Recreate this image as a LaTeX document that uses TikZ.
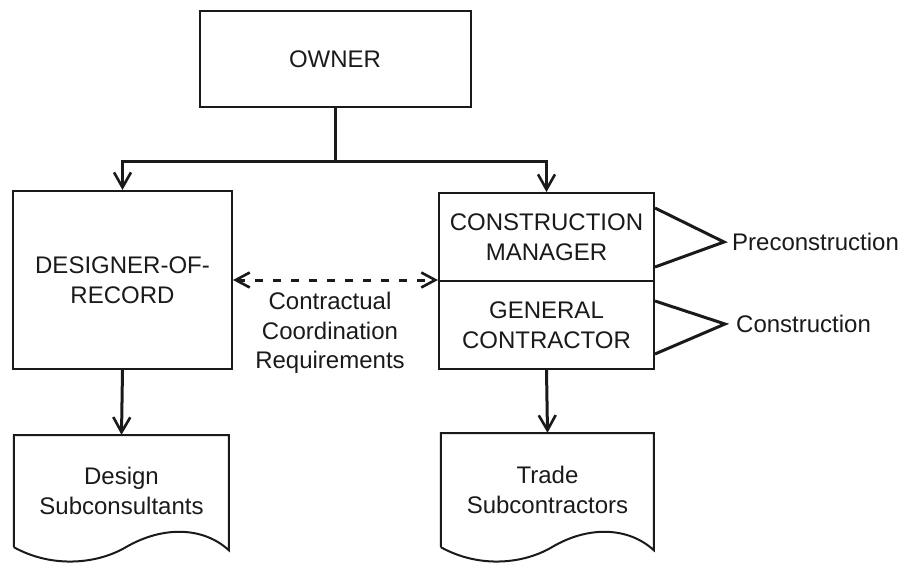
\documentclass[tikz,border=0pt]{standalone}
\usepackage{fontspec}
\setmainfont{Liberation Sans}
\usetikzlibrary{arrows.meta,calc}
\definecolor{ink}{HTML}{1A1A1A}
\tikzset{
  box/.style={draw=ink, line width=2pt, inner sep=0pt, align=center, text=ink,
    font=\fontsize{24}{29.5}\selectfont},
  docbox/.style={draw=none, inner sep=0pt, align=center, text=ink,
    font=\fontsize{24}{29.5}\selectfont},
  lbl/.style={inner sep=0pt, align=center, text=ink, font=\fontsize{24}{29.5}\selectfont},
  conn/.style={draw=ink, line width=3pt, -{Straight Barb[length=15pt,width=17pt,line width=2.6pt]}},
  dconn/.style={draw=ink, line width=3pt, dash pattern=on 8pt off 10pt,
    {Straight Barb[length=14pt,width=15pt,line width=2.6pt]}-{Straight Barb[length=14pt,width=15pt,line width=2.6pt]}},
  brk/.style={draw=ink, line width=3pt, line join=miter},
  docline/.style={draw=ink, line width=2pt, line join=miter}
}
\begin{document}
\begin{tikzpicture}[x=1pt,y=-1pt]
\useasboundingbox (0,0) rectangle (905,563);
% nodes
\node[box, minimum width=271pt, minimum height=96pt] (owner) at (335,59) {OWNER};
\node[box, minimum width=219pt, minimum height=178pt] (dor) at (122.5,280) {DESIGNER-OF-\\RECORD};
\node[box, minimum width=215pt, minimum height=88pt] (cm) at (546.5,237) {CONSTRUCTION\\MANAGER};
\node[box, minimum width=215pt, minimum height=88pt] (gc) at (546.5,325) {GENERAL\\CONTRACTOR};
\node[docbox, minimum width=215pt, minimum height=112pt] (ds) at (121.5,491) {Design\\Subconsultants};
\node[docbox, minimum width=213pt, minimum height=114pt] (ts) at (547.5,490) {Trade\\Subcontractors};
\node[lbl] (ccr) at (330,333) {Contractual\\Coordination\\Requirements};
\node[lbl, anchor=west] (pre) at (732,242) {Preconstruction};
\node[lbl, anchor=west] (con) at (736,324) {Construction};
% document shapes
\draw[docline, shift={(ds.south west)}]
  (0,0) -- (0,-112) -- (215,-112) -- (215,3)
  .. controls (190,-20) and (150,-22) .. (112,0)
  .. controls (85,16) and (40,22) .. (0,0);
\draw[docline, shift={(ts.south west)}]
  (0,0) -- (0,-114) -- (213,-114) -- (213,3)
  .. controls (188,-20) and (148,-22) .. (111,0)
  .. controls (84,16) and (40,22) .. (0,0);
% connectors
\coordinate (j) at ($(owner.south)+(0,53)$);
\draw[draw=ink, line width=3pt] (owner.south) -- (j);
\draw[conn] (j) -| (dor.north);
\draw[conn] (j) -| (cm.north);
\draw[conn] (dor.south) -- (ds.north);
\draw[conn] (gc.south) -- (ts.north);
\draw[dconn] (dor.east) -- (dor.east -| cm.west);
% brackets
\coordinate (pt) at ($(pre.west)+(-8,0)$);
\coordinate (ct) at ($(con.west)+(-11,0)$);
\draw[brk] ($(cm.north east)+(0,16)$) -- (pt) -- ($(cm.north east)+(0,75)$);
\draw[brk] ($(gc.north east)+(0,21)$) -- (ct) -- ($(gc.north east)+(0,74)$);
\end{tikzpicture}
\end{document}
